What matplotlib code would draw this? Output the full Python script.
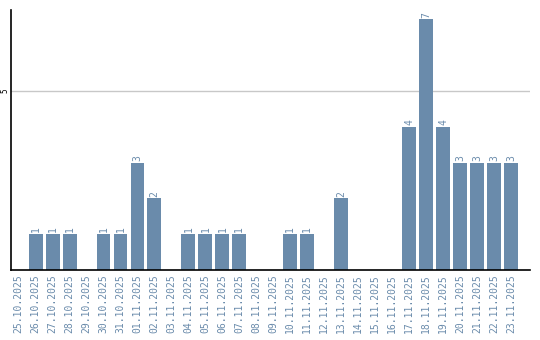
import matplotlib
matplotlib.use('Agg')
import matplotlib.pyplot as plt

# Werte pro Tag
DATES = ['25.10.2025', '26.10.2025', '27.10.2025', '28.10.2025', '29.10.2025',
         '30.10.2025', '31.10.2025', '01.11.2025', '02.11.2025', '03.11.2025',
         '04.11.2025', '05.11.2025', '06.11.2025', '07.11.2025', '08.11.2025',
         '09.11.2025', '10.11.2025', '11.11.2025', '12.11.2025', '13.11.2025',
         '14.11.2025', '15.11.2025', '16.11.2025', '17.11.2025', '18.11.2025',
         '19.11.2025', '20.11.2025', '21.11.2025', '22.11.2025', '23.11.2025']
COUNTS = [0, 1, 1, 1, 0, 1, 1, 3, 2, 0,
          1, 1, 1, 1, 0, 0, 1, 1, 0, 2,
          0, 0, 0, 4, 7, 4, 3, 3, 3, 3]
Y_TICKS = [5]

BAR_COLOR = '#6a8bab'
TXT_COLOR = '#6a8bab'

fig = plt.figure(figsize=(5.4, 3.4), dpi=100)
ax = fig.add_axes([11/540, 70/340, 519/540, 260/340])

x = list(range(len(DATES)))
bars = ax.bar(x, COUNTS, width=0.82, color=BAR_COLOR, zorder=2)

for xi, v in zip(x, COUNTS):
    if v > 0:
        ax.text(xi, v + 0.05, str(v), rotation=90, ha='center', va='bottom',
                fontsize=7, family='DejaVu Sans Mono', color=TXT_COLOR)

ax.set_xlim(-0.45, 30.12)
ax.set_ylim(0, 7.26)
ax.set_xticks(x)
ax.set_xticklabels(DATES, rotation=90, fontsize=7, family='DejaVu Sans Mono', color=TXT_COLOR)
ax.set_yticks(Y_TICKS)
ax.set_yticklabels([str(t) for t in Y_TICKS], rotation=90, fontsize=5.5, va='center',
                   family='DejaVu Sans Mono')
ax.tick_params(axis='x', length=0, pad=3)
ax.tick_params(axis='y', length=0, pad=1)
ax.yaxis.grid(True, color='#c8c8c8', linewidth=1, zorder=0)
ax.set_axisbelow(True)
ax.spines['top'].set_visible(False)
ax.spines['right'].set_visible(False)
ax.spines['left'].set_linewidth(1.2)
ax.spines['bottom'].set_linewidth(1.2)

plt.savefig('out.png', dpi=100)
